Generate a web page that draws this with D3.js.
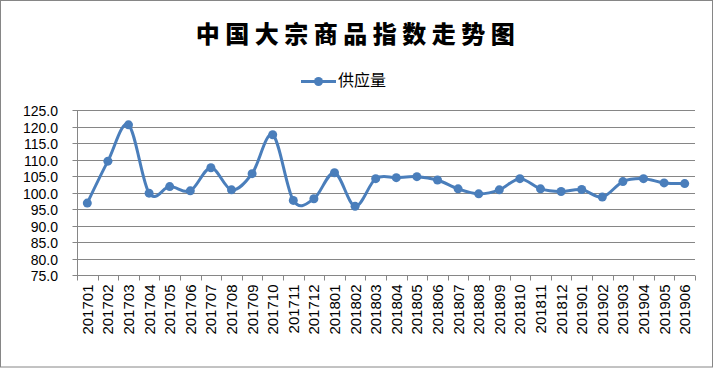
<!DOCTYPE html>
<html><head><meta charset="utf-8">
<script src="https://cdn.jsdelivr.net/npm/d3@7"></script>
<style>body{margin:0;background:#fff}svg{display:block}</style>
</head><body>
<svg id="c" width="714" height="369"></svg>
<script>
const title = "中国大宗商品指数走势图";
const seriesName = "供应量";
const categories = ["201701","201702","201703","201704","201705","201706","201707","201708","201709","201710","201711","201712","201801","201802","201803","201804","201805","201806","201807","201808","201809","201810","201811","201812","201901","201902","201903","201904","201905","201906"];
const values = [96.8,109.5,120.5,99.8,101.8,100.5,107.5,100.8,105.7,117.5,97.6,98.1,106.0,95.8,104.2,104.5,104.8,103.8,101.1,99.6,100.8,104.2,101.1,100.3,100.9,98.6,103.3,104.2,102.9,102.7];
const yTicks = [75,80,85,90,95,100,105,110,115,120,125];

const svg = d3.select("#c");
const W = 714, H = 369;
const L = 77, R = 695, T = 110, B = 275;
const blue = "#4A7EBB", grid = "#868686";

svg.append("rect").attr("x",0.5).attr("y",0.5).attr("width",W-2).attr("height",H-2.5)
  .attr("fill","#fff").attr("stroke","#868686").attr("stroke-width",1);

svg.append("text").attr("x",358).attr("y",43).attr("text-anchor","middle")
  .style("font-family","'Noto Sans CJK SC'").style("font-weight",900).style("font-size","24px")
  .style("letter-spacing","5.5px").attr("fill","#000").text(title);

// legend
const lg = svg.append("g");
lg.append("line").attr("x1",301).attr("x2",336).attr("y1",81.5).attr("y2",81.5)
  .attr("stroke",blue).attr("stroke-width",3);
lg.append("circle").attr("cx",318.5).attr("cy",81.5).attr("r",4.5).attr("fill",blue);
lg.append("text").attr("x",338).attr("y",86).style("font-family","'Noto Sans CJK SC'")
  .style("font-size","16px").attr("fill","#000").text(seriesName);

const x = d3.scaleBand().domain(categories).range([L,R]);
const y = d3.scaleLinear().domain([75,125]).range([B,T]);

// gridlines
svg.append("g").selectAll("line").data(yTicks.filter(v=>v>75)).join("line")
  .attr("x1",L).attr("x2",R).attr("y1",d=>Math.round(y(d))+0.5).attr("y2",d=>Math.round(y(d))+0.5)
  .attr("stroke",grid).attr("stroke-width",1);

// y axis
const ya = svg.append("g").attr("transform",`translate(${L+0.5},0)`)
  .call(d3.axisLeft(y).tickValues(yTicks).tickFormat(d3.format(".1f")).tickSize(5).tickPadding(5));
ya.select(".domain").attr("stroke",grid).attr("d",`M0,${T}V${B}`);
ya.selectAll(".tick line").attr("stroke",grid);
ya.selectAll(".tick").attr("transform",d=>`translate(0,${Math.round(y(d))+0.5})`);
ya.selectAll("text").style("font-family","'Liberation Sans',Arial").style("font-size","14px")
  .attr("fill","#000").attr("x",-19.5).attr("dy","0.36em");

// x axis
const xa = svg.append("g").attr("transform",`translate(0,${B+0.5})`)
  .call(d3.axisBottom(x).tickSize(0).tickPadding(0));
xa.select(".domain").attr("stroke",grid).attr("d",`M${L},0H${R}`);
const bounds = d3.range(categories.length+1).map(i=>L + i*x.bandwidth());
xa.selectAll(".bt").data(bounds).join("line").attr("class","bt")
  .attr("x1",d=>Math.round(d)+0.5).attr("x2",d=>Math.round(d)+0.5).attr("y1",0).attr("y2",5)
  .attr("stroke",grid);
xa.selectAll(".tick text").attr("transform","rotate(-90)").attr("x",-9).attr("y",0)
  .attr("dy","0.36em").attr("text-anchor","end")
  .style("font-family","'Liberation Sans',Arial").style("font-size","15px").attr("fill","#000");

// line
const cx = d => x(d) + x.bandwidth()/2;
const data = categories.map((c,i)=>({c, v: values[i]}));
svg.append("path").datum(data)
  .attr("d", d3.line().x(d=>cx(d.c)).y(d=>y(d.v)).curve(d3.curveCardinal.tension(0)))
  .attr("fill","none").attr("stroke",blue).attr("stroke-width",3).attr("stroke-linejoin","round");
svg.append("g").selectAll("circle").data(data).join("circle")
  .attr("cx",d=>cx(d.c)).attr("cy",d=>y(d.v)).attr("r",4.5).attr("fill",blue);
</script>
</body></html>
